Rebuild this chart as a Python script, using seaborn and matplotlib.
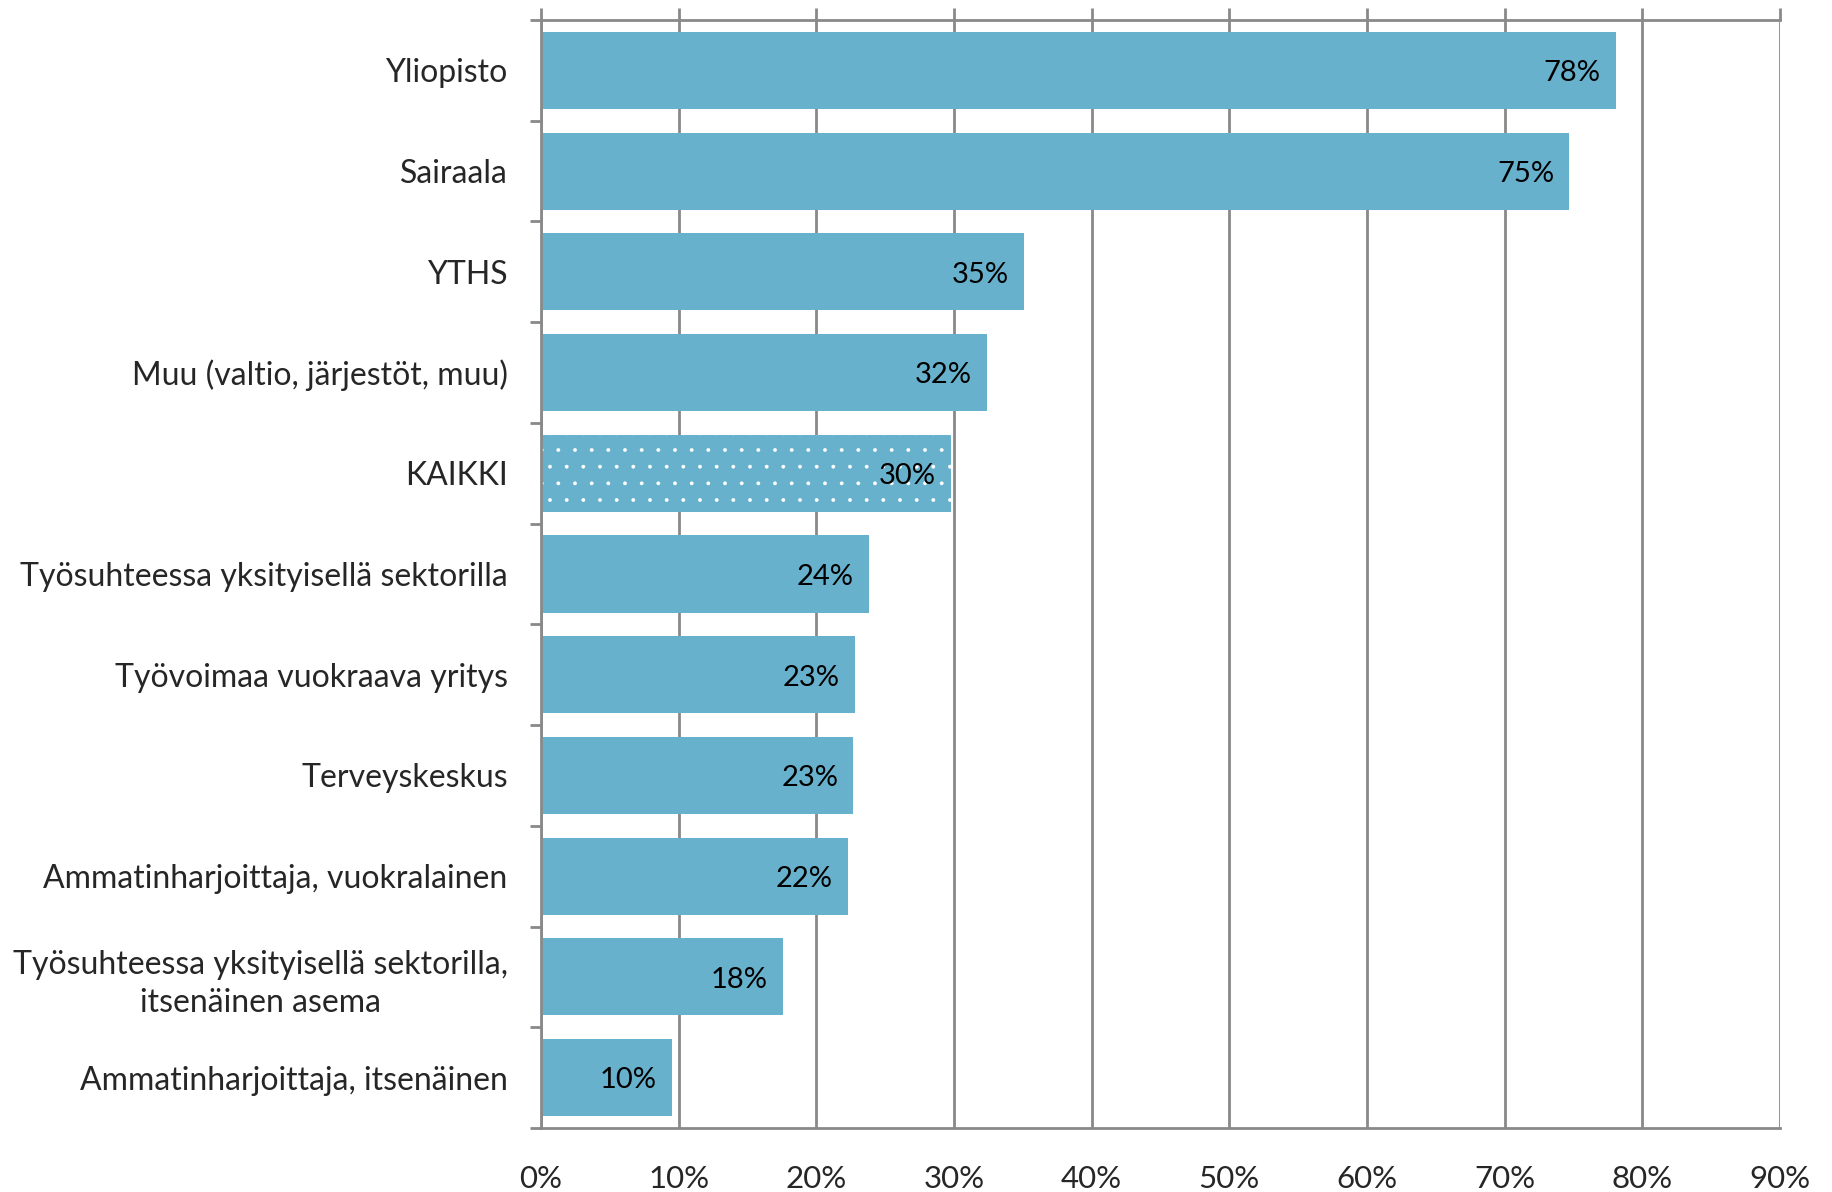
import numpy as np
import pandas as pd
import matplotlib.pyplot as plt
import seaborn as sns
from matplotlib.ticker import FixedLocator, PercentFormatter

sns.set_style("white")
plt.rcParams['font.family'] = ['Lato', 'DejaVu Sans']
plt.rcParams['hatch.linewidth'] = 0.3

categories = ['Yliopisto', 'Sairaala', 'YTHS', 'Muu (valtio, järjestöt, muu)', 'KAIKKI',
              'Työsuhteessa yksityisellä sektorilla', 'Työvoimaa vuokraava yritys',
              'Terveyskeskus', 'Ammatinharjoittaja, vuokralainen',
              'Työsuhteessa yksityisellä sektorilla,\nitsenäinen asema',
              'Ammatinharjoittaja, itsenäinen']
values = [78.1, 74.7, 35.1, 32.4, 29.8, 23.8, 22.8, 22.7, 22.3, 17.6, 9.5]
xticks = [0, 10, 20, 30, 40, 50, 60, 70, 80, 90]

df = pd.DataFrame({'cat': categories, 'val': values})

bar_color = '#67B1CD'
grid_color = '#898989'

fig = plt.figure(figsize=(18.32, 11.92), dpi=100)
ax = fig.add_axes([0.2953, 0.0537, 0.9716 - 0.2953, 0.9832 - 0.0537])

sns.barplot(data=df, x='val', y='cat', orient='h', color=bar_color, saturation=1,
            width=0.765, ax=ax, linewidth=0)

# KAIKKI gets the dotted fill
kaikki = ax.patches[categories.index('KAIKKI')]
kaikki.set_hatch('.')
kaikki.set_edgecolor('white')
kaikki.set_linewidth(0)

ax.set_xlim(0, 90)
ax.set_ylim(len(categories) - 0.5, -0.5)
ax.set_xticks(xticks)
ax.xaxis.set_major_formatter(PercentFormatter(decimals=0))
ax.set_axisbelow(True)
ax.grid(axis='x', color=grid_color, linewidth=2)
ax.grid(axis='y', visible=False)
ax.set_xlabel('')
ax.set_ylabel('')

for side in ['top', 'bottom', 'left']:
    ax.spines[side].set_visible(True)
    ax.spines[side].set_color(grid_color)
    ax.spines[side].set_linewidth(2)
ax.spines['right'].set_visible(False)

ax.tick_params(axis='x', which='major', top=True, bottom=False, labeltop=False,
               labelbottom=True, direction='out', length=8.5, width=2,
               color=grid_color, labelsize=22.5, pad=18)
ax.yaxis.set_minor_locator(FixedLocator(np.arange(-0.5, len(categories), 1)))
ax.tick_params(axis='y', which='minor', left=True, length=8, width=2,
               color=grid_color)
ax.tick_params(axis='y', which='major', left=False, length=0, labelsize=23,
               pad=24)
for lbl in ax.get_yticklabels():
    lbl.set_multialignment('center')
    lbl.set_linespacing(1.35)

for i, v in enumerate(values):
    ax.annotate(f'{round(v):.0f}%', xy=(v, i), xytext=(-11, -2),
                textcoords='offset points', ha='right', va='center',
                fontsize=21, color='black')

fig.savefig('out.png', dpi=100)
